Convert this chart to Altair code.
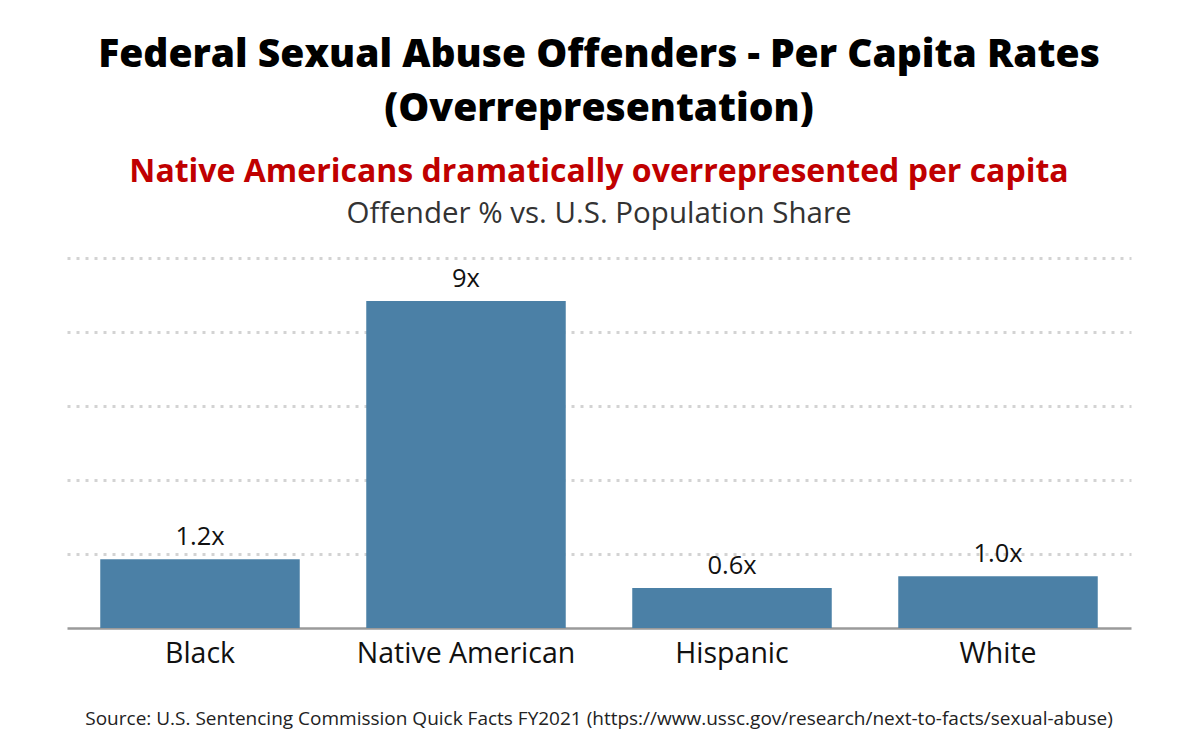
import altair as alt
import pandas as pd

categories = ["Black", "Native American", "Hispanic", "White"]
bar_values = [1.86, 8.84, 1.08, 1.40]
bar_labels = ["1.2x", "9x", "0.6x", "1.0x"]

title_lines = ["Federal Sexual Abuse Offenders - Per Capita Rates", "(Overrepresentation)"]
subtitle_red = "Native Americans dramatically overrepresented per capita"
subtitle_gray = "Offender % vs. U.S. Population Share"
source_text = "Source: U.S. Sentencing Commission Quick Facts FY2021 (https://www.ussc.gov/research/next-to-facts/sexual-abuse)"

FONT = "Open Sans"
W, H = 1064, 370

df = pd.DataFrame({"group": categories, "value": bar_values, "label": bar_labels})

base = alt.Chart(df).encode(
    x=alt.X("group:N", sort=categories, title=None,
            scale=alt.Scale(paddingInner=0.25, paddingOuter=0.125),
            axis=alt.Axis(labelAngle=0, labelFontSize=28.5, labelColor="#111111",
                          labelFont=FONT, labelPadding=11, ticks=False, labelLimit=400,
                          domainColor="#9a9a9a", domainWidth=2.5)),
    y=alt.Y("value:Q", title=None, scale=alt.Scale(domain=[0, 10], nice=False),
            axis=alt.Axis(values=[2, 4, 6, 8, 10], labels=False, ticks=False, domain=False,
                          grid=True, gridColor="#d3d3d3", gridWidth=3, gridDash=[3, 6])),
)

bars = base.mark_bar(color="#4b80a6")
labels = base.mark_text(baseline="bottom", dy=-9, fontSize=25.5, font=FONT, color="#111111").encode(text="label:N")

sub_gray = alt.Chart(pd.DataFrame({"t": [subtitle_gray]})).mark_text(
    fontSize=29.5, font=FONT, color="#333333", baseline="middle", align="center"
).encode(text="t:N", x=alt.value(W / 2), y=alt.value(-44))

source = alt.Chart(pd.DataFrame({"t": [source_text]})).mark_text(
    fontSize=19, font=FONT, color="#222222", baseline="middle", align="center"
).encode(text="t:N", x=alt.value(W / 2), y=alt.value(H + 91))

chart = alt.layer(bars, labels, sub_gray, source).properties(
    width=W, height=H,
    background="white",
    padding={"left": 67, "right": 69, "top": 36, "bottom": 10},
    title=alt.TitleParams(
        text=title_lines, fontSize=39, font=FONT, fontWeight=800, color="#000000",
        lineHeight=54, anchor="middle", offset=11,
        subtitle=subtitle_red, subtitleFont=FONT, subtitleFontSize=32,
        subtitleFontWeight="bold", subtitleColor="#c00000", subtitlePadding=28,
    ),
).configure_view(stroke="transparent", strokeWidth=0)

chart.save("out.html", embed_options={"renderer": "svg", "actions": False})
